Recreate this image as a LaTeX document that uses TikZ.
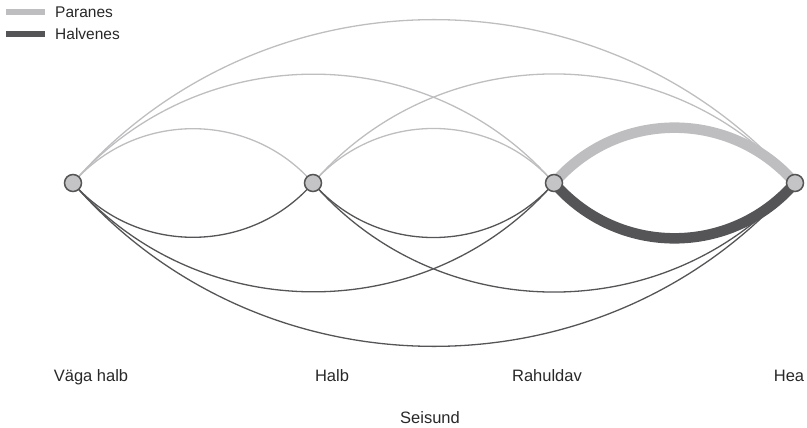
\documentclass[tikz,border=0pt]{standalone}
\usepackage{fontspec}
\setmainfont{Liberation Sans}
\definecolor{upc}{RGB}{190,190,192}
\definecolor{downc}{RGB}{85,85,87}
\definecolor{nodefill}{RGB}{196,196,198}
\definecolor{nodeline}{RGB}{85,85,85}
\definecolor{txt}{RGB}{40,40,40}
\tikzset{
  state/.style={circle, draw=nodeline, fill=nodefill, line width=1.5pt, minimum size=17pt, inner sep=0pt},
  upthin/.style={draw=upc, line width=1.3pt, out=49, in=131, looseness=1.025},
  downthin/.style={draw=downc, line width=1.3pt, out=-49, in=-131, looseness=1.025},
  upthick/.style={upthin, line width=10.5pt, looseness=1.04},
  downthick/.style={downthin, line width=10.5pt, looseness=1.04},
  lab/.style={font=\fontsize{16.5}{18}\selectfont, text=txt, anchor=base, inner sep=0pt},
  leg/.style={font=\fontsize{15.5}{17}\selectfont, text=txt, anchor=west, inner sep=0pt}
}
\begin{document}
\begin{tikzpicture}[x=1pt,y=-1pt]
\useasboundingbox (0,0) rectangle (807,428);
% node positions
\coordinate (p1) at (73,183);
\coordinate (p2) at (313,183);
\coordinate (p3) at (554,183);
\coordinate (p4) at (795,183);
% upper (Paranes)
\draw[upthin] (p1) to (p2);
\draw[upthin] (p1) to (p3);
\draw[upthin] (p1) to (p4);
\draw[upthin] (p2) to (p3);
\draw[upthin] (p2) to (p4);
\draw[upthick] (p3) to (p4);
% lower (Halvenes)
\draw[downthin] (p1) to (p2);
\draw[downthin] (p1) to (p3);
\draw[downthin] (p1) to (p4);
\draw[downthin] (p2) to (p3);
\draw[downthin] (p2) to (p4);
\draw[downthick] (p3) to (p4);
% nodes
\node[state] (n1) at (p1) {};
\node[state] (n2) at (p2) {};
\node[state] (n3) at (p3) {};
\node[state] (n4) at (p4) {};
% axis labels
\node[lab] (l1) at (91,381) {Väga halb};
\node[lab] (l2) at (332,381) {Halb};
\node[lab] (l3) at (547,381) {Rahuldav};
\node[lab] (l4) at (789,381) {Hea};
\node[lab] (ax) at (430,423) {Seisund};
% legend
\coordinate (lg1a) at (6,12);
\coordinate (lg1b) at (45,12);
\coordinate (lg2a) at (6,34.5);
\coordinate (lg2b) at (45,34.5);
\draw[upc, line width=6pt] (lg1a) -- (lg1b);
\draw[downc, line width=6pt] (lg2a) -- (lg2b);
\node[leg] (t1) at (55,12.5) {Paranes};
\node[leg] (t2) at (55,34) {Halvenes};
\end{tikzpicture}
\end{document}
